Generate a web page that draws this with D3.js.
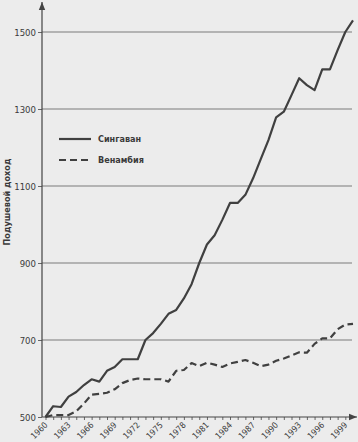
<!DOCTYPE html>
<html><head><meta charset="utf-8">
<script src="https://cdn.jsdelivr.net/npm/d3@7/dist/d3.min.js"></script>
<style>
html,body{margin:0;padding:0;background:#ececec;}
svg{display:block;}
text{font-family:"Liberation Sans Narrow","Arial Narrow","DejaVu Sans Condensed",sans-serif;fill:#3a3a3a;}
</style></head>
<body>
<svg id="c" width="358" height="442"></svg>
<script>
const years = d3.range(1960, 2001);
const singavan = [500,528,526,553,565,583,598,592,620,630,650,650,650,700,718,742,768,778,808,845,900,948,972,1012,1056,1056,1077,1120,1170,1219,1278,1293,1336,1380,1362,1349,1403,1403,1453,1500,1530];
const venambia = [500,505,505,505,515,535,558,560,563,572,588,596,600,598,598,598,592,620,622,640,632,641,636,630,639,643,648,641,632,636,646,652,660,668,667,690,704,704,728,740,742];
const yTicks = [500,700,900,1100,1300,1500];
const xLabels = [1960,1963,1966,1969,1972,1975,1978,1981,1984,1987,1990,1993,1996,1999];
const seriesNames = ["Сингаван","Венамбия"];
const yTitle = "Подушевой доход";

const svg = d3.select("#c");
const x = d3.scaleLinear().domain([1960, 2000]).range([45.5, 353]);
const y = d3.scaleLinear().domain([500, 1500]).range([417, 32]);
const axX = 42, gridEnd = 352;
const col = "#404040";

// gridlines
svg.append("g").selectAll("line").data(yTicks.slice(1)).join("line")
  .attr("x1", axX).attr("x2", gridEnd)
  .attr("y1", d => y(d)).attr("y2", d => y(d))
  .attr("stroke", "#7a7a7a").attr("stroke-width", 1);

// y axis ticks & labels
const ya = svg.append("g").attr("transform", `translate(${axX},0)`)
  .call(d3.axisLeft(y).tickValues(yTicks).tickSize(4).tickPadding(2).tickFormat(d3.format("d")));
ya.select(".domain").remove();
ya.selectAll("line").attr("stroke", "#666");
ya.selectAll("text").attr("font-size", 9.5).attr("fill", "#444");

// x axis minor ticks & labels
const xa = svg.append("g").attr("transform", `translate(0,${y(500)})`)
  .call(d3.axisBottom(x).tickValues(years.filter(d => d < 2000)).tickSize(3).tickFormat(""));
xa.select(".domain").remove();
xa.selectAll("line").attr("stroke", "#666");
svg.append("g").selectAll("text").data(xLabels).join("text")
  .attr("transform", d => `translate(${x(d) - 1},${y(500) + 5}) rotate(-45)`)
  .attr("text-anchor", "end").attr("dy", "0.6em")
  .attr("font-size", 8.5).attr("fill", "#555")
  .text(d => d);

// axes lines with arrows
const defs = svg.append("defs");
defs.append("marker").attr("id", "arr").attr("viewBox", "0 0 10 10")
  .attr("refX", 10).attr("refY", 5).attr("markerWidth", 8).attr("markerHeight", 8)
  .attr("markerUnits", "userSpaceOnUse").attr("orient", "auto")
  .append("path").attr("d", "M0,1 L10,5 L0,9 Z").attr("fill", "#444");
svg.append("line").attr("x1", axX).attr("x2", axX).attr("y1", y(500)).attr("y2", 2)
  .attr("stroke", "#444").attr("stroke-width", 1.2).attr("marker-end", "url(#arr)");
svg.append("line").attr("x1", axX).attr("x2", 357).attr("y1", y(500)).attr("y2", y(500))
  .attr("stroke", "#444").attr("stroke-width", 1.2).attr("marker-end", "url(#arr)");

// lines
const line = d3.line().x((d, i) => x(years[i])).y(d => y(d));
svg.append("path").datum(venambia).attr("d", line)
  .attr("fill", "none").attr("stroke", col).attr("stroke-width", 2.2)
  .attr("stroke-dasharray", "7,4").attr("stroke-linejoin", "round");
svg.append("path").datum(singavan).attr("d", line)
  .attr("fill", "none").attr("stroke", col).attr("stroke-width", 2.2)
  .attr("stroke-linejoin", "round");

// legend
const lg = svg.append("g");
[0, 1].forEach(i => {
  const ly = 139 + i * 21;
  lg.append("line").attr("x1", 59).attr("x2", 91).attr("y1", ly).attr("y2", ly)
    .attr("stroke", col).attr("stroke-width", 2.2)
    .attr("stroke-dasharray", i ? "7,4" : null);
  lg.append("text").attr("x", 98).attr("y", ly).attr("dy", "0.35em")
    .attr("font-size", 9).attr("font-weight", "bold").attr("fill", "#3a3a3a")
    .text(seriesNames[i]);
});

// y title
svg.append("text").attr("transform", "translate(10,202) rotate(-90)")
  .attr("text-anchor", "middle").attr("font-size", 9).attr("font-weight", "bold")
  .attr("fill", "#3a3a3a").text(yTitle);
</script>
</body></html>
